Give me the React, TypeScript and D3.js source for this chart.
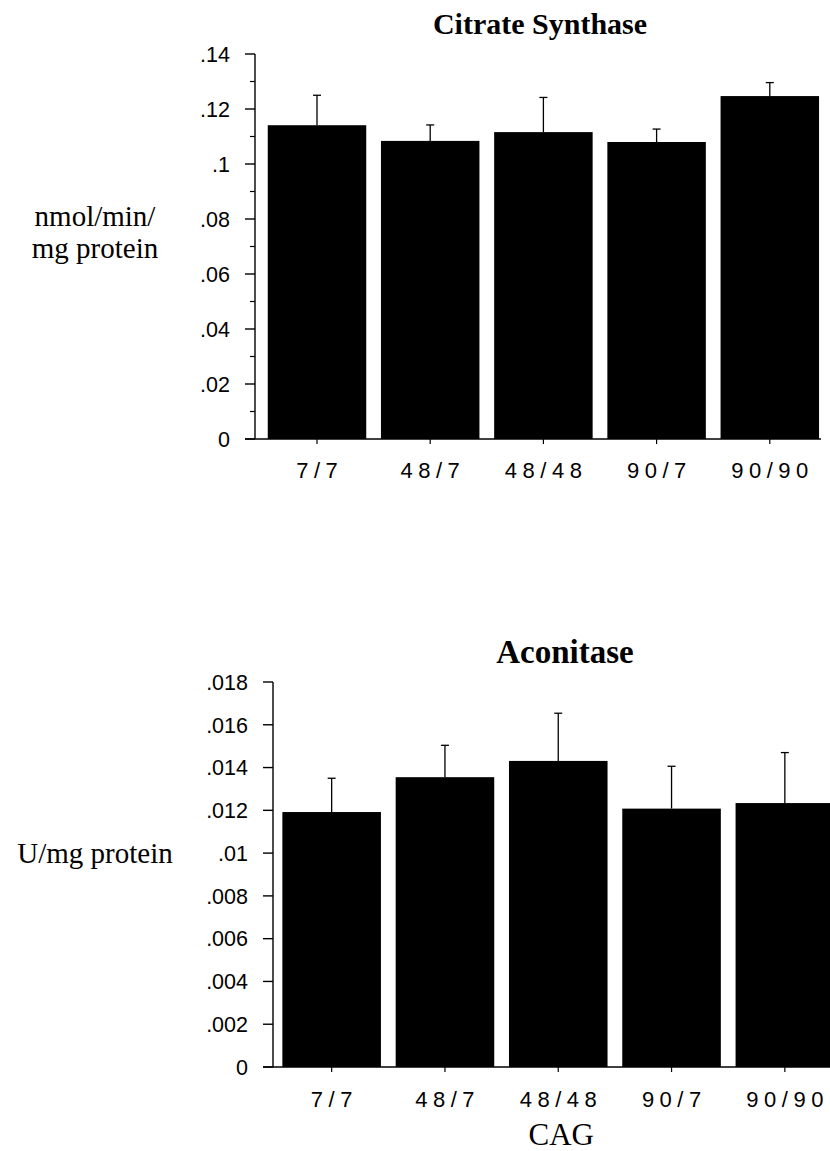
import React from 'react';
import * as d3 from 'd3';

// genotypes (CAG repeat lengths)
const categories = ['7/7', '48/7', '48/48', '90/7', '90/90'];

// Citrate synthase, nmol/min/mg protein
const citrateMeans = [0.1141, 0.1084, 0.1116, 0.108, 0.1247];
const citrateErrors = [0.0109, 0.0058, 0.0126, 0.0047, 0.0049];
const citrateTicks = [0, 0.02, 0.04, 0.06, 0.08, 0.1, 0.12, 0.14];
const citrateMinorTicks = [0.01, 0.03, 0.05, 0.07, 0.09, 0.11, 0.13];

// Aconitase, U/mg protein
const aconitaseMeans = [0.01192, 0.01355, 0.01431, 0.01208, 0.01234];
const aconitaseErrors = [0.00158, 0.00149, 0.00223, 0.00198, 0.00236];
const aconitaseTicks = [0, 0.002, 0.004, 0.006, 0.008, 0.01, 0.012, 0.014, 0.016, 0.018];

const SANS = '"Liberation Sans", Arial, sans-serif';
const SERIF = '"Liberation Serif", "Times New Roman", serif';

// ".14", ".1", "0" style labels
const fmt = (v: number) => (v === 0 ? '0' : String(+v.toFixed(4)).replace(/^0\./, '.'));

type PanelProps = {
  title: string;
  titleSize: number;
  titleX: number;
  yLabel: string[];
  means: number[];
  errors: number[];
  ticks: number[];
  minorTicks: number[];
  axisX: number;
  y0: number;
  yTop: number;
  bandRange: [number, number];
  axisEnd: number;
  titleY: number;
  yLabelY: number;
  xLabelY: number;
  xTitle?: string;
};

const Panel = (p: PanelProps) => {
  const y = d3.scaleLinear().domain([0, p.ticks[p.ticks.length - 1]]).range([p.y0, p.yTop]);
  const x = d3.scaleBand<string>().domain(categories).range(p.bandRange).paddingInner(0.13).paddingOuter(0.065);
  const center = (c: string) => (x(c) as number) + x.bandwidth() / 2;

  return (
    <g>
      <text x={p.titleX} y={p.titleY} textAnchor="middle" fontFamily={SERIF} fontWeight="bold" fontSize={p.titleSize}>
        {p.title}
      </text>

      {p.yLabel.map((line, i) => (
        <text key={i} x={95} y={p.yLabelY + i * 32} textAnchor="middle" fontFamily={SERIF} fontSize={29}>
          {line}
        </text>
      ))}

      {/* bars */}
      {p.means.map((m, i) => (
        <rect key={i} x={x(categories[i])} y={y(m)} width={x.bandwidth()} height={p.y0 - y(m)} fill="#000" />
      ))}

      {/* upper error bars */}
      {p.means.map((m, i) => {
        const cx = center(categories[i]);
        const top = y(m + p.errors[i]);
        return (
          <g key={i} stroke="#000" strokeWidth={1.3}>
            <line x1={cx} x2={cx} y1={y(m)} y2={top} />
            <line x1={cx - 4} x2={cx + 4} y1={top} y2={top} />
          </g>
        );
      })}

      {/* y axis */}
      <line x1={p.axisX} x2={p.axisX} y1={p.yTop} y2={p.y0} stroke="#000" strokeWidth={1.4} />
      {p.ticks.map((t) => (
        <g key={t}>
          <line x1={p.axisX - 10} x2={p.axisX} y1={y(t)} y2={y(t)} stroke="#000" strokeWidth={1.4} />
          <text x={p.axisX - 25} y={y(t)} dy="0.36em" textAnchor="end" fontFamily={SANS} fontSize={21.5}>
            {fmt(t)}
          </text>
        </g>
      ))}
      {p.minorTicks.map((t) => (
        <line key={t} x1={p.axisX - 5} x2={p.axisX} y1={y(t)} y2={y(t)} stroke="#000" strokeWidth={1.2} />
      ))}

      {/* x axis */}
      <line x1={p.axisX - 10} x2={p.axisEnd} y1={p.y0} y2={p.y0} stroke="#000" strokeWidth={1.4} />
      {categories.map((c) => (
        <g key={c}>
          <line x1={center(c)} x2={center(c)} y1={p.y0} y2={p.y0 + 5} stroke="#000" strokeWidth={1.2} />
          <text x={center(c) + 2.75} y={p.xLabelY} textAnchor="middle" fontFamily={SANS} fontSize={22} letterSpacing={5.5}>
            {c}
          </text>
        </g>
      ))}
      {p.xTitle && (
        <text x={center('48/48') + 3} y={p.xLabelY + 38} textAnchor="middle" fontFamily={SERIF} fontSize={31}>
          {p.xTitle}
        </text>
      )}
    </g>
  );
};

export default function App() {
  return (
    <div style={{ position: 'absolute', left: 0, top: 0 }}>
      <svg width={830} height={1151} viewBox="0 0 830 1151" style={{ display: 'block', background: '#fff' }}>
        <Panel
          title="Citrate Synthase"
          titleSize={30}
          titleX={540}
          yLabel={['nmol/min/', 'mg protein']}
          means={citrateMeans}
          errors={citrateErrors}
          ticks={citrateTicks}
          minorTicks={citrateMinorTicks}
          axisX={255}
          y0={439}
          yTop={54}
          bandRange={[260.4, 826.4]}
          axisEnd={821}
          titleY={34}
          yLabelY={226}
          xLabelY={478}
        />
        <Panel
          title="Aconitase"
          titleSize={33}
          titleX={565}
          yLabel={['U/mg protein']}
          means={aconitaseMeans}
          errors={aconitaseErrors}
          ticks={aconitaseTicks}
          minorTicks={[]}
          axisX={273}
          y0={1067}
          yTop={682}
          bandRange={[275, 841.5]}
          axisEnd={830}
          titleY={663}
          yLabelY={863}
          xLabelY={1107}
          xTitle="CAG"
        />
      </svg>
    </div>
  );
}
